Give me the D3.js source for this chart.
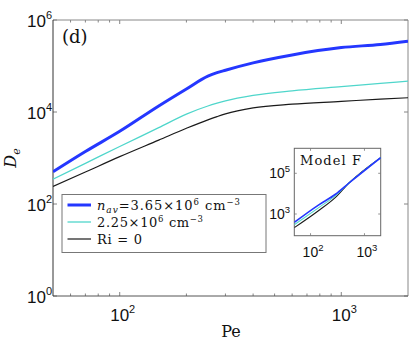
<!DOCTYPE html>
<html><head><meta charset="utf-8">
<script src="https://cdn.jsdelivr.net/npm/d3@7"></script>
<style>body{margin:0;background:#fff}svg{display:block}</style>
</head><body>
<svg id="c" width="415" height="340"></svg>
<script>
// ---- data ----
const pe = [50, 70, 100, 150, 200, 250, 275, 300, 400, 600, 1000, 1500, 2000];
const deHigh = [500, 1380, 3800, 13500, 31600, 60000, 71600, 81000, 117000, 174000, 251000, 295000, 347000]; // n_av = 3.65e6
const deMid  = [347, 766, 1780, 4570, 9000, 13500, 15500, 17400, 22900, 28800, 35500, 41700, 46800];         // 2.25e6
const deRi0  = [240, 495, 1070, 2450, 4420, 6760, 7950, 9120, 12300, 14800, 17000, 19100, 20400];           // Ri = 0
const insetPe   = [50, 140, 290, 510, 2000];
const insetHigh = [389, 2750, 9330, 32400, 589000];
const insetMid  = [295, 2000, 7940, 32400, 589000];
const insetRi0  = [214, 1450, 6610, 32400, 589000];
const xTicksMain = [100, 1000];
const yTicksMain = [1, 100, 10000, 1000000];
const xMinorMain = [60,70,80,90,200,300,400,500,600,700,800,900];
const xTicksInset = [100, 1000];
const yTicksInset = [1000, 100000];
const seriesNames = ["high", "mid", "ri0"];

const svg = d3.select("#c");
const W = {l:53, r:408, t:20, b:296};
const x = d3.scaleLog().domain([50, 2000]).range([W.l, W.r]);
const y = d3.scaleLog().domain([1, 1e6]).range([W.b, W.t]);

const colors = {high:"#2437ff", mid:"#4fd6cb", ri0:"#1a1a1a"};
const widths = {high:3, mid:1.3, ri0:1.2};

svg.append("clipPath").attr("id","clipMain").append("rect")
  .attr("x",W.l).attr("y",W.t).attr("width",W.r-W.l).attr("height",W.b-W.t);

// ticks (inward)
const tickG = svg.append("g").attr("stroke","#666").attr("stroke-width",0.8);
xTicksMain.forEach(v=>{
  tickG.append("line").attr("x1",x(v)).attr("x2",x(v)).attr("y1",W.b).attr("y2",W.b-4);
  tickG.append("line").attr("x1",x(v)).attr("x2",x(v)).attr("y1",W.t).attr("y2",W.t+4);
});
xMinorMain.forEach(v=>{
  tickG.append("line").attr("x1",x(v)).attr("x2",x(v)).attr("y1",W.b).attr("y2",W.b-2.5);
  tickG.append("line").attr("x1",x(v)).attr("x2",x(v)).attr("y1",W.t).attr("y2",W.t+2.5);
});
yTicksMain.forEach(v=>{
  tickG.append("line").attr("x1",W.l).attr("x2",W.l+4).attr("y1",y(v)).attr("y2",y(v));
  tickG.append("line").attr("x1",W.r).attr("x2",W.r-4).attr("y1",y(v)).attr("y2",y(v));
});

// axes box
svg.append("line").attr("x1",W.l).attr("x2",W.r).attr("y1",W.t).attr("y2",W.t).attr("stroke","#888");
svg.append("line").attr("x1",W.r).attr("x2",W.r).attr("y1",W.t).attr("y2",W.b).attr("stroke","#888");
svg.append("line").attr("x1",W.l).attr("x2",W.r).attr("y1",W.b).attr("y2",W.b).attr("stroke","#555");
svg.append("line").attr("x1",W.l).attr("x2",W.l).attr("y1",W.t).attr("y2",W.b).attr("stroke","#333");

function exp(v){ return Math.round(Math.log10(v)); }
function powLabel(g, v, px, py, anchor, fs, sfs, rise){
  const t = g.append("text").attr("x",px).attr("y",py).attr("text-anchor",anchor)
    .attr("font-family","'Liberation Sans', Arial, sans-serif").attr("font-size",fs).attr("fill","#111");
  t.append("tspan").text("10");
  t.append("tspan").attr("dy",-rise).attr("font-size",sfs).text(exp(v));
}
const lab = svg.append("g");
xTicksMain.forEach(v=>powLabel(lab, v, x(v)+3, 321, "middle", 17, 11, 8));
yTicksMain.forEach(v=>powLabel(lab, v, 52, y(v)+7, "end", 17, 11, 8));

// lines
const line = (xs, ys, xsc, ysc) => d3.line().curve(d3.curveMonotoneX)
  .x((d,i)=>xsc(xs[i])).y(d=>ysc(d));
const mainSeries = {high:deHigh, mid:deMid, ri0:deRi0};
const lg = svg.append("g").attr("clip-path","url(#clipMain)");
["ri0","mid","high"].forEach(k=>{
  lg.append("path").attr("d", line(pe, mainSeries[k], x, y)(mainSeries[k]))
    .attr("fill","none").attr("stroke",colors[k]).attr("stroke-width",widths[k]).attr("stroke-linejoin","round");
});

// axis titles
const sf = "'DejaVu Serif', 'Liberation Serif', serif";
svg.append("text").attr("x",231).attr("y",337).attr("text-anchor","middle")
  .attr("font-family",sf).attr("font-size",16).attr("fill","#111").text("Pe");
const yl = svg.append("text").attr("transform","translate(16,158) rotate(-90)").attr("text-anchor","middle")
  .attr("font-family",sf).attr("font-size",16).attr("fill","#111")
  .attr("font-style","italic");
yl.append("tspan").text("D");
yl.append("tspan").attr("dy",4).attr("font-size",11).text("e");

svg.append("text").attr("x",62).attr("y",43).attr("font-family",sf)
  .attr("font-size",18).attr("fill","#111").text("(d)");

// legend
const L = {x:62, y:194.5, w:204, h:58};
svg.append("rect").attr("x",L.x).attr("y",L.y).attr("width",L.w).attr("height",L.h)
  .attr("fill","#fff").attr("stroke","#777").attr("stroke-width",1);
const rowsY = [205, 222, 239];
seriesNames.forEach((k,i)=>{
  svg.append("line").attr("x1",67.5).attr("x2",91).attr("y1",rowsY[i]).attr("y2",rowsY[i])
    .attr("stroke",colors[k]).attr("stroke-width",widths[k]);
});
function legText(i, len){
  return svg.append("text").attr("x",97).attr("y",rowsY[i]+4.5).attr("font-family",sf).attr("font-size",13)
    .attr("fill","#111").attr("textLength",len).attr("lengthAdjust","spacing");
}
let t0 = legText(0, 143);
t0.append("tspan").attr("font-style","italic").text("n");
t0.append("tspan").attr("font-style","italic").attr("font-size",9).attr("dy",3).text("av");
t0.append("tspan").attr("dy",-3).text("=3.65×10");
t0.append("tspan").attr("font-size",8.5).attr("dy",-5).text("6");
t0.append("tspan").attr("dy",5).text(" cm");
t0.append("tspan").attr("font-size",8.5).attr("dy",-5).text("−3");
let t1 = legText(1, 106);
t1.append("tspan").text("2.25×10");
t1.append("tspan").attr("font-size",8.5).attr("dy",-5).text("6");
t1.append("tspan").attr("dy",5).text(" cm");
t1.append("tspan").attr("font-size",8.5).attr("dy",-5).text("−3");
legText(2, 45).text("Ri = 0");

// inset
const I = {l:294.3, r:380.7, t:148.3, b:235.7};
const xi = d3.scaleLog().domain([50, 2000]).range([I.l, I.r]);
const yi = d3.scaleLog().domain([Math.pow(10,1.934), Math.pow(10,6.228)]).range([I.b, I.t]);
svg.append("rect").attr("x",I.l).attr("y",I.t).attr("width",I.r-I.l).attr("height",I.b-I.t)
  .attr("fill","#fff").attr("stroke","#666").attr("stroke-width",1);
svg.append("clipPath").attr("id","clipIn").append("rect")
  .attr("x",I.l).attr("y",I.t).attr("width",I.r-I.l).attr("height",I.b-I.t);
const it = svg.append("g").attr("stroke","#777").attr("stroke-width",0.8);
xTicksInset.forEach(v=>{
  it.append("line").attr("x1",xi(v)).attr("x2",xi(v)).attr("y1",I.b).attr("y2",I.b-2.5);
  it.append("line").attr("x1",xi(v)).attr("x2",xi(v)).attr("y1",I.t).attr("y2",I.t+2.5);
});
yTicksInset.forEach(v=>{
  it.append("line").attr("x1",I.l).attr("x2",I.l+2.5).attr("y1",yi(v)).attr("y2",yi(v));
  it.append("line").attr("x1",I.r).attr("x2",I.r-2.5).attr("y1",yi(v)).attr("y2",yi(v));
});
const insetSeries = {high:insetHigh, mid:insetMid, ri0:insetRi0};
const insetW = {high:1.6, mid:1.1, ri0:1.1};
const ig = svg.append("g").attr("clip-path","url(#clipIn)");
["ri0","mid","high"].forEach(k=>{
  ig.append("path").attr("d", line(insetPe, insetSeries[k], xi, yi)(insetSeries[k]))
    .attr("fill","none").attr("stroke",colors[k]).attr("stroke-width",insetW[k]);
});
xTicksInset.forEach(v=>powLabel(lab, v, xi(v)+2.5, 256.5, "middle", 14, 9.5, 6));
yTicksInset.forEach(v=>powLabel(lab, v, 290, yi(v)+4.5, "end", 14, 9.5, 6));
svg.append("text").attr("x",300).attr("y",165).attr("font-family",sf).attr("font-size",13)
  .attr("textLength",61).attr("lengthAdjust","spacing").attr("fill","#111").text("Model F");
</script>
</body></html>
